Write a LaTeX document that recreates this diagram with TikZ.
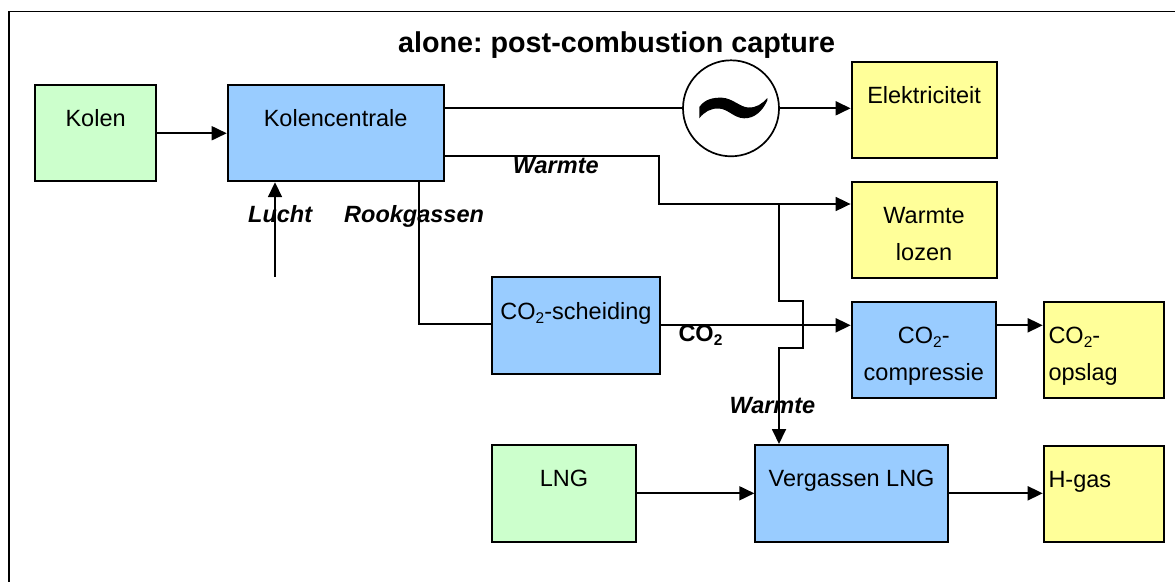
\documentclass[tikz,border=0pt]{standalone}
\usepackage{fontspec}
\setmainfont{Liberation Sans}
\usetikzlibrary{arrows.meta}
\frenchspacing
\definecolor{cgreen}{HTML}{CCFFCC}
\definecolor{cblue}{HTML}{99CCFF}
\definecolor{cyellow}{HTML}{FFFF99}
\newcommand\subtwo{\raisebox{-4pt}{\fontsize{15.5}{16}\selectfont 2}}
\tikzset{
  box/.style={draw, line width=1.9pt, inner sep=0pt, anchor=north west},
  txt/.style={inner sep=0pt, font=\fontsize{23.5}{37}\selectfont},
  lbl/.style={inner sep=0pt, font=\fontsize{23.5}{28}\selectfont\bfseries\itshape},
  conn/.style={line width=1.8pt},
  arr/.style={line width=1.8pt, -{Triangle[length=15pt,width=14pt]}},
}
\begin{document}
\begin{tikzpicture}[x=1pt,y=-1pt]
\useasboundingbox (0,0) rectangle (1175,581);
\clip (0,0) rectangle (1175,581);
% frame (right and bottom edges fall outside the picture)
\draw[line width=1.9pt] (9.3,11.5) rectangle (1200,610);
% title
\node[inner sep=0pt, anchor=base west, font=\fontsize{28.7}{32}\selectfont\bfseries] (title) at (398,52) {alone: post-combustion capture};
% boxes
\node[box, fill=cgreen, minimum width=120.7pt, minimum height=96pt] (kolen) at (34.3,84.3) {};
\node[box, fill=cblue, minimum width=216pt, minimum height=96pt] (kc) at (226.7,84.3) {};
\node[box, fill=cyellow, minimum width=145pt, minimum height=96pt] (elek) at (850.6,60.7) {};
\node[box, fill=cyellow, minimum width=145pt, minimum height=96pt] (wl) at (850.6,180.7) {};
\node[box, fill=cblue, minimum width=168.6pt, minimum height=96.7pt] (sch) at (490.7,276) {};
\node[box, fill=cblue, minimum width=144.3pt, minimum height=96pt] (comp) at (850.7,300.7) {};
\node[box, fill=cyellow, minimum width=120.3pt, minimum height=96pt] (opslag) at (1042.7,300.7) {};
\node[box, fill=cgreen, minimum width=144.6pt, minimum height=96.7pt] (lng) at (490.7,444) {};
\node[box, fill=cblue, minimum width=192.7pt, minimum height=96.7pt] (verg) at (754.3,444) {};
\node[box, fill=cyellow, minimum width=120.3pt, minimum height=96pt] (hgas) at (1042.7,444.7) {};
% generator
\node[draw, circle, line width=1.7pt, minimum size=96pt, inner sep=0pt] (gen) at (731,108.3) {};
\fill (699.3,118.3) -- (699.3,107) .. controls (705,99) and (713,97.5) .. (722,97.7)
  .. controls (732,98) and (740,107) .. (748,107.5)
  .. controls (756,108) and (762,104) .. (767.3,98) -- (767.3,100.5)
  .. controls (762,112) and (754,118.5) .. (744,118.3)
  .. controls (734,118) and (728,109) .. (719,108.5)
  .. controls (711,108) and (704,112) .. (699.3,118.3) -- cycle;
% box texts
\node[txt, anchor=base] (tkolen) at ([yshift=-42.5pt]kolen.north) {Kolen};
\node[txt, anchor=base] (tkc) at ([yshift=-42.5pt]kc.north) {Kolencentrale};
\node[txt, anchor=base] (telek) at ([yshift=-42.5pt]elek.north) {Elektriciteit};
\node[txt, anchor=base] (twl) at ([yshift=-42.3pt]wl.north) {\begin{tabular}[t]{@{}c@{}}Warmte\\lozen\end{tabular}};
\node[txt, anchor=base] (tsch) at ([yshift=-43.3pt]sch.north) {CO\subtwo-scheiding};
\node[txt, anchor=base] (tcomp) at ([yshift=-42.6pt]comp.north) {\begin{tabular}[t]{@{}c@{}}CO\subtwo-\\compressie\end{tabular}};
\node[txt, anchor=base west] (topslag) at ([xshift=5.6pt,yshift=-42.6pt]opslag.north west) {\begin{tabular}[t]{@{}l@{}}CO\subtwo-\\opslag\end{tabular}};
\node[txt, anchor=base] (tlng) at ([yshift=-42.7pt]lng.north) {LNG};
\node[txt, anchor=base] (tverg) at ([yshift=-42.7pt]verg.north) {Vergassen LNG};
\node[txt, anchor=base west] (thgas) at ([xshift=5.6pt,yshift=-42.3pt]hgas.north west) {H-gas};
% connector coordinates
\coordinate (w1) at (659,156.3);
\coordinate (w2) at (659,204);
\coordinate (b0) at (779,204);
\coordinate (b1) at (779,300.7);
\coordinate (b2) at (803.3,300.7);
\coordinate (b3) at (803.3,348.3);
\coordinate (b4) at (779,348.3);
\coordinate (l0) at (275,276.7);
\coordinate (r1) at (419,324.3);
% connectors
\draw[arr] (kolen.east) -- (kc.west);
\draw[conn] (gen.west -| kc.east) -- (gen.west);
\draw[arr] (gen.east) -- (gen.east -| elek.west);
\draw[arr] (w1 -| kc.east) -- (w1) -- (w2) -- (w2 -| wl.west);
\draw[arr] (b0) -- (b1) -- (b2) -- (b3) -- (b4) -- (b4 |- verg.north);
\draw[arr] (l0) -- (l0 |- kc.south);
\draw[conn] (r1 |- kc.south) -- (r1) -- (r1 -| sch.west);
\draw[arr] (sch.east) -- (sch.east -| comp.west);
\draw[arr] (sch.east -| comp.east) -- (sch.east -| opslag.west);
\draw[arr] (lng.east) -- (verg.west);
\draw[arr] (verg.east) -- (verg.east -| hgas.west);
% labels
\node[lbl, anchor=base west] (llucht) at (248,222.3) {Lucht};
\node[lbl, anchor=base west] (lrook) at (344,222.3) {Rookgassen};
\node[lbl, anchor=base west] (lwarm1) at (512.7,173.5) {Warmte};
\node[lbl, anchor=base west] (lwarm2) at (729.3,413.3) {Warmte};
\node[inner sep=0pt, anchor=base west, font=\fontsize{23.5}{28}\selectfont\bfseries] (lco2) at (678.3,341.5) {CO\subtwo};
\end{tikzpicture}
\end{document}
